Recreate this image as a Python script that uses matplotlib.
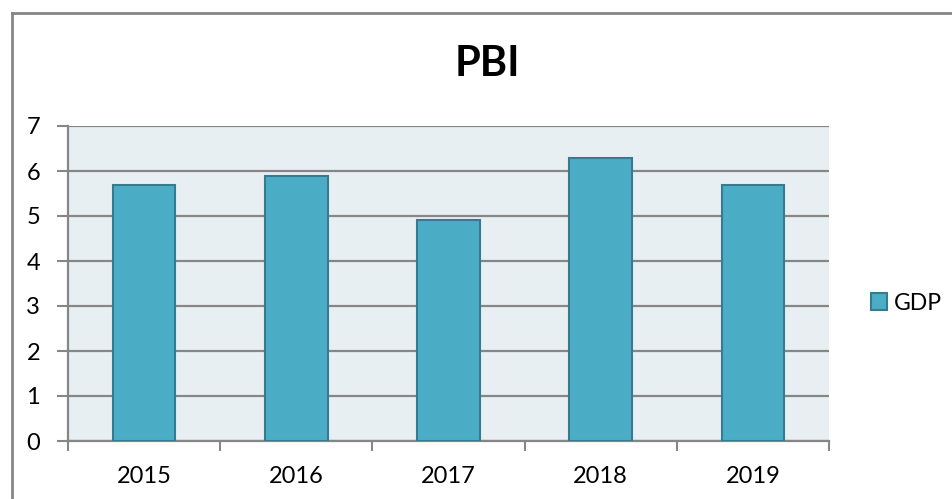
import numpy as np
import matplotlib
matplotlib.use("Agg")
import matplotlib.pyplot as plt
from matplotlib.lines import Line2D
from matplotlib.patches import Patch

plt.rcParams['font.family'] = ['Lato', 'DejaVu Sans']

years = ['2015', '2016', '2017', '2018', '2019']
gdp = [5.7, 5.9, 4.9, 6.3, 5.7]
series_name = 'GDP'
title = 'PBI'

bar_color = '#4BACC6'
edge_color = '#357C90'
grid_color = '#868686'
plot_bg = '#E8EFF3'

fig = plt.figure(figsize=(9.52, 4.99), dpi=100)
ax = fig.add_axes([68 / 952, 58 / 499, 761 / 952, 315 / 499])
ax.set_facecolor(plot_bg)

x = np.arange(len(years))
ax.bar(x, gdp, width=0.41, color=bar_color, edgecolor=edge_color, linewidth=1.5, zorder=3)

ax.set_xlim(-0.5, len(years) - 0.5)
ax.set_ylim(0, 7)
ax.set_yticks(range(0, 8))
ax.yaxis.grid(True, color=grid_color, linewidth=1.6, zorder=1)
ax.set_axisbelow(True)

# category labels between boundary ticks
ax.set_xticks(np.arange(-0.5, len(years)), minor=False)
ax.set_xticklabels([])
ax.set_xticks(x, minor=True)
ax.set_xticklabels(years, minor=True)
ax.tick_params(axis='x', which='major', length=7, width=1.5, color=grid_color, direction='out')
ax.tick_params(axis='x', which='minor', length=0, pad=18, labelsize=17)
ax.tick_params(axis='y', length=8, width=1.5, color=grid_color, direction='out', pad=12, labelsize=17)

for side in ['top', 'right']:
    ax.spines[side].set_visible(False)
for side in ['left', 'bottom']:
    ax.spines[side].set_color(grid_color)
    ax.spines[side].set_linewidth(1.6)

fig.text(487 / 952, 1 - 64 / 499, title, ha='center', va='center',
         fontsize=30, fontweight='bold')

handle = Patch(facecolor=bar_color, edgecolor=edge_color, linewidth=1.5)
fig.legend([handle], [series_name], loc='center left',
           bbox_to_anchor=(850 / 952, 1 - 303 / 499), frameon=False,
           fontsize=16.5, handlelength=0.7, handleheight=0.7, handletextpad=0.3)

# outer chart border (top and left visible in crop)
fig.add_artist(Line2D([12 / 952, 12 / 952], [0, 1 - 13 / 499], transform=fig.transFigure,
                      color=grid_color, linewidth=2))
fig.add_artist(Line2D([12 / 952, 1], [1 - 13 / 499, 1 - 13 / 499], transform=fig.transFigure,
                      color=grid_color, linewidth=2))

fig.savefig('out.png', dpi=100)
